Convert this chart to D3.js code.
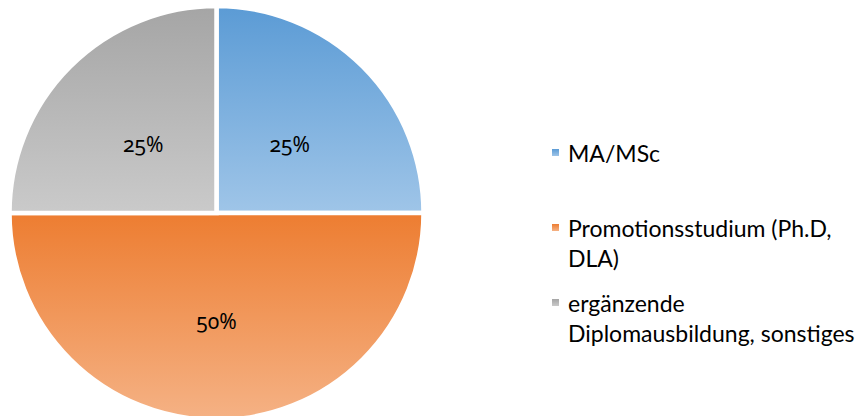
<!DOCTYPE html>
<html>
<head>
<meta charset="utf-8">
<script src="https://cdn.jsdelivr.net/npm/d3@7"></script>
<style>
  html, body { margin: 0; padding: 0; background: #fff; }
  svg { display: block; font-family: Lato, "Open Sans", sans-serif; }
  .pct { font-family: "Noto Sans", Lato, sans-serif; font-variant-numeric: oldstyle-nums; font-feature-settings: "onum" 1; }
</style>
</head>
<body>
<div id="vis"></div>
<script>
const categories = ['MA/MSc', 'Promotionsstudium (Ph.D, DLA)', 'ergänzende Diplomausbildung, sonstiges'];
const legendLines = [['MA/MSc'], ['Promotionsstudium (Ph.D,', 'DLA)'], ['ergänzende', 'Diplomausbildung, sonstiges']];
const values = [25, 50, 25];
const topColors = ['#5b9bd5', '#ed7d31', '#a5a5a5'];
const bottomColors = ['#9fc5e8', '#f5b285', '#cacaca'];

const width = 857;
const height = 416;
const cx = 216.5, cy = 213, radius = 207;

const svg = d3.select('#vis')
  .append('svg')
    .attr('width', width)
    .attr('height', height);

const defs = svg.append('defs');
categories.forEach((c, i) => {
  const g = defs.append('linearGradient')
    .attr('id', 'grad' + i)
    .attr('x1', 0).attr('y1', 0)
    .attr('x2', 0).attr('y2', 1);
  g.append('stop').attr('offset', '0%').attr('stop-color', topColors[i]);
  g.append('stop').attr('offset', '100%').attr('stop-color', bottomColors[i]);
});

const pie = d3.pie().sort(null).value(d => d);
const arcs = pie(values);
const arc = d3.arc().innerRadius(0).outerRadius(radius);

const g = svg.append('g').attr('transform', 'translate(' + cx + ',' + cy + ')');

g.selectAll('path.slice')
  .data(arcs)
  .enter()
  .append('path')
    .attr('class', 'slice')
    .attr('d', arc)
    .attr('fill', (d, i) => 'url(#grad' + i + ')')
    .attr('stroke', '#fff')
    .attr('stroke-width', 4.5)
    .attr('stroke-linejoin', 'miter');

const total = d3.sum(values);
g.selectAll('text.pct')
  .data(arcs)
  .enter()
  .append('text')
    .attr('class', 'pct')
    .attr('transform', d => {
      const c = arc.centroid(d);
      return 'translate(' + c[0] + ',' + (c[1] + 4) + ')';
    })
    .attr('text-anchor', 'middle')
    .attr('dominant-baseline', 'central')
    .attr('font-size', 21)
    .attr('fill', '#000')
    .text(d => Math.round(d.value / total * 100) + '%');

const legendY = d3.scalePoint().domain(categories).range([152.5, 302.5]);
const legend = svg.append('g');
categories.forEach((c, i) => {
  const y = legendY(c);
  legend.append('rect')
    .attr('x', 552).attr('y', y - 3.5)
    .attr('width', 7).attr('height', 7)
    .attr('fill', 'url(#grad' + i + ')');
  legendLines[i].forEach((line, j) => {
    legend.append('text')
      .attr('x', 568)
      .attr('y', y + j * 30.5)
      .attr('dominant-baseline', 'central')
      .attr('font-size', 23)
      .attr('fill', '#000')
      .text(line);
  });
});
</script>
</body>
</html>
